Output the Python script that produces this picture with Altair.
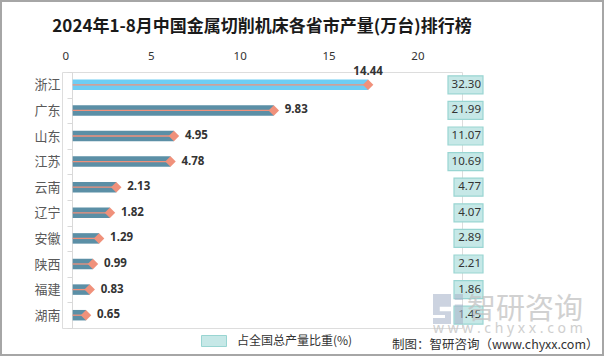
import altair as alt
import pandas as pd

provinces = ["浙江", "广东", "山东", "江苏", "云南", "辽宁", "安徽", "陕西", "福建", "湖南"]
output = [14.44, 9.83, 4.95, 4.78, 2.13, 1.82, 1.29, 0.99, 0.83, 0.65]
share = [32.30, 21.99, 11.07, 10.69, 4.77, 4.07, 2.89, 2.21, 1.86, 1.45]
top_ticks = [0, 5, 10, 15, 20]
title_text = "2024年1-8月中国金属切削机床各省市产量(万台)排行榜"
legend_label = "占全国总产量比重(%)"
source_text = "制图：智研咨询（www.chyxx.com）"

df = pd.DataFrame({
    "province": provinces,
    "output": output,
    "share": share,
})
df["out_label"] = [f"{v:.2f}" for v in output]
df["share_label"] = [f"{v:.2f}" for v in share]
df["series"] = legend_label
df["zero"] = 0.0

CJK = "Noto Sans CJK SC"
NUM = "Noto Sans"

bar_scale = alt.Scale(domain=[-0.523, 19.03], nice=False, zero=False)
y_enc = alt.Y(
    "province:N",
    sort=provinces,
    title=None,
    scale=alt.Scale(paddingInner=0, paddingOuter=0),
    axis=alt.Axis(
        labelFont=CJK, labelFontSize=13, labelColor="#595959",
        tickBand="extent", tickSize=5, tickColor="#d9d9d9",
        domainColor="#d9d9d9", labelPadding=7, offset=-10, grid=False,
    ),
)

base = alt.Chart(df)

bars = base.mark_bar(size=10.5).encode(
    x=alt.X("zero:Q", scale=bar_scale, axis=None),
    x2="output:Q",
    y=y_enc,
    color=alt.condition(alt.datum.province == "浙江", alt.value("#6DCDF4"), alt.value("#5B8FA6")),
)
lines = base.mark_rule(color="#F0917B", strokeWidth=1.3).encode(
    x=alt.X("zero:Q", scale=bar_scale, axis=None),
    x2="output:Q",
    y=alt.Y("province:N", sort=provinces),
)
diamonds = base.mark_point(shape="diamond", filled=True, size=110, color="#F0917B", opacity=1).encode(
    x=alt.X("output:Q", scale=bar_scale, axis=None),
    y=alt.Y("province:N", sort=provinces),
)
labels = base.transform_filter(alt.datum.province != "浙江").mark_text(
    align="left", baseline="middle", dx=11, font=NUM, fontSize=11.5, fontWeight="bold", color="#333333"
).encode(
    x=alt.X("output:Q", scale=bar_scale, axis=None),
    y=alt.Y("province:N", sort=provinces),
    text="out_label:N",
)
label_top = base.transform_filter(alt.datum.province == "浙江").mark_text(
    align="center", baseline="middle", dy=-13, font=NUM, fontSize=11.5, fontWeight="bold", color="#333333"
).encode(
    x=alt.X("output:Q", scale=bar_scale, axis=None),
    y=alt.Y("province:N", sort=provinces),
    text="out_label:N",
)
bar_group = alt.layer(bars, lines, diamonds, labels, label_top)

axis_layer = alt.Chart(pd.DataFrame({"t": top_ticks})).mark_tick(opacity=0).encode(
    x=alt.X(
        "t:Q",
        scale=alt.Scale(domain=[0, 22.51], nice=False),
        axis=alt.Axis(
            orient="top", values=top_ticks, domain=False, ticks=False, grid=False,
            labelFont=NUM, labelFontSize=11.5, labelColor="#333333", labelPadding=11, title=None,
        ),
    ),
)

boxes = base.transform_calculate(
    bx="421 - 6 * length(datum.share_label) - 5",
    bx2="421",
).mark_bar(size=18, stroke="#99D5D2", strokeWidth=1.2).encode(
    x=alt.X("bx:Q", scale=None, axis=None),
    x2="bx2:Q",
    y=alt.Y("province:N", sort=provinces),
    fill=alt.Fill(
        "series:N",
        scale=alt.Scale(range=["#C6E8E7"]),
        legend=alt.Legend(
            title=None, orient="none", legendX=139, legendY=256,
            symbolType="M-1,-0.44H1V0.44H-1Z", symbolSize=625,
            symbolStrokeColor="#99D5D2", symbolStrokeWidth=1,
            labelFont=CJK, labelFontSize=12, labelColor="#333333", labelOffset=10,
        ),
    ),
)
box_text = base.mark_text(
    align="right", baseline="middle", font=NUM, fontSize=11.5, color="#333333"
).encode(
    x=alt.value(419),
    y=alt.Y("province:N", sort=provinces),
    text="share_label:N",
)

one = alt.Data(values=[{"a": 1}])
wm1 = alt.Chart(one).mark_text(
    text="智研咨询", align="left", baseline="middle", font=CJK, fontSize=29, color="#c2c2c2", opacity=0.75
).encode(x=alt.value(405), y=alt.value(238))
wm2 = alt.Chart(one).mark_text(
    text="w w w . c h y x x . c o m", align="left", baseline="middle", font=NUM, fontSize=14,
    color="#c4c4c4", opacity=0.8
).encode(x=alt.value(371), y=alt.value(257))
wm_icon = alt.Chart(one).mark_point(
    shape="M-1,-1H0.2V-0.15H-0.55V0.15H0.2V1H-1V0.6H-0.2V0.4H-1Z M0.45,-1H1V-0.6H0.45Z M0.45,-0.3H1V1H0.45Z",
    size=900, filled=True, color="#aab6cc", opacity=0.6,
).encode(x=alt.value(386), y=alt.value(237))
source = alt.Chart(one).mark_text(
    text=source_text, align="left", baseline="middle", font=CJK, fontSize=12.5, color="#333333"
).encode(x=alt.value(330), y=alt.value(273))
border = alt.Chart(one).mark_rect(fill=None, stroke="#a6a6a6", strokeWidth=2).encode(
    x=alt.value(-61), x2=alt.value(541), y=alt.value(-71), y2=alt.value(283)
)

chart = alt.layer(
    bar_group, axis_layer, boxes, box_text, wm_icon, wm1, wm2, source, border
).resolve_scale(x="independent").properties(
    width=400,
    height=256,
    title=alt.TitleParams(
        text=title_text, anchor="middle", frame="group", fontSize=17, font=CJK,
        fontWeight="bold", color="#1a1a1a", offset=0, dy=36,
    ),
    autosize=alt.AutoSizeParams(type="none"),
    padding={"left": 62, "top": 72, "right": 142, "bottom": 28},
).configure_view(stroke=None).configure(background="white")

chart.save("out.html", embed_options={"renderer": "svg", "actions": False})
